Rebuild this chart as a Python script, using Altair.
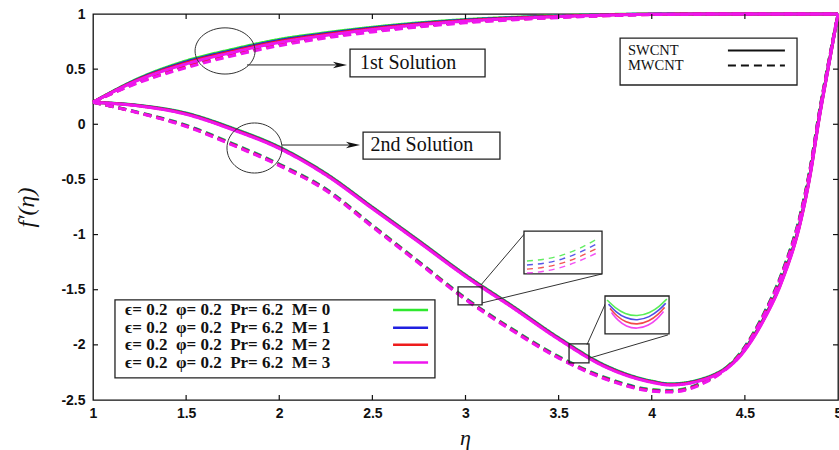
import altair as alt
import pandas as pd

# ------------------------------------------------------------------ data
M_VALUES = [0, 1, 2, 3]
M_COLORS = ["#2ee82e", "#2020e0", "#ee1c1c", "#ee16ee"]
TYPES = ["SWCNT", "MWCNT"]

X_TICKS = [1, 1.5, 2, 2.5, 3, 3.5, 4, 4.5, 5]
Y_TICKS = [-2.5, -2, -1.5, -1, -0.5, 0, 0.5, 1]

# 1st solution
ETA_1ST = [1.0, 1.25, 1.5, 1.75, 2.0, 2.25, 2.5, 2.75, 3.0, 3.25, 3.5, 3.75, 4.0, 4.5, 5.0]
F_1ST_SWCNT = {
    0: [0.20, 0.420, 0.575, 0.680, 0.770, 0.830, 0.880, 0.920, 0.950, 0.970, 0.985, 0.995, 1.000, 1.000, 1.000],
    1: [0.20, 0.415, 0.565, 0.670, 0.760, 0.822, 0.873, 0.914, 0.945, 0.966, 0.982, 0.993, 0.999, 1.000, 1.000],
    2: [0.20, 0.410, 0.556, 0.661, 0.751, 0.814, 0.866, 0.908, 0.940, 0.962, 0.979, 0.991, 0.998, 1.000, 1.000],
    3: [0.20, 0.405, 0.547, 0.652, 0.742, 0.806, 0.859, 0.902, 0.935, 0.958, 0.976, 0.989, 0.997, 1.000, 1.000],
}
F_1ST_MWCNT = {
    0: [0.20, 0.395, 0.540, 0.648, 0.740, 0.806, 0.858, 0.900, 0.935, 0.958, 0.976, 0.989, 0.997, 1.000, 1.000],
    1: [0.20, 0.390, 0.531, 0.639, 0.731, 0.798, 0.851, 0.894, 0.930, 0.954, 0.973, 0.987, 0.996, 1.000, 1.000],
    2: [0.20, 0.385, 0.522, 0.630, 0.722, 0.790, 0.844, 0.888, 0.925, 0.950, 0.970, 0.985, 0.995, 1.000, 1.000],
    3: [0.20, 0.380, 0.513, 0.621, 0.713, 0.782, 0.837, 0.882, 0.920, 0.946, 0.967, 0.983, 0.994, 1.000, 1.000],
}

# 2nd solution
ETA_2ND = [1.0, 1.25, 1.5, 1.75, 2.0, 2.25, 2.5, 2.75, 3.0, 3.25, 3.5, 3.75, 4.0, 4.1,
           4.25, 4.5, 4.6, 4.7, 4.8, 4.85, 4.9, 4.95, 5.0]
F_2ND_SWCNT = {
    0: [0.20, 0.171, 0.102, -0.035, -0.205, -0.445, -0.750, -1.055, -1.365, -1.645, -1.935, -2.185, -2.328, -2.353,
        -2.318, -2.035, -1.762, -1.399, -0.859, -0.449, 0.078, 0.542, 1.000],
    1: [0.20, 0.169, 0.098, -0.040, -0.210, -0.450, -0.755, -1.060, -1.370, -1.650, -1.940, -2.190, -2.332, -2.357,
        -2.322, -2.040, -1.768, -1.406, -0.866, -0.456, 0.072, 0.538, 1.000],
    2: [0.20, 0.167, 0.094, -0.045, -0.215, -0.455, -0.760, -1.065, -1.375, -1.655, -1.945, -2.195, -2.336, -2.361,
        -2.326, -2.045, -1.774, -1.413, -0.873, -0.463, 0.066, 0.534, 1.000],
    3: [0.20, 0.165, 0.090, -0.050, -0.220, -0.460, -0.765, -1.070, -1.380, -1.660, -1.950, -2.200, -2.340, -2.365,
        -2.330, -2.050, -1.780, -1.420, -0.880, -0.470, 0.060, 0.530, 1.000],
}
F_2ND_MWCNT = {
    0: [0.20, 0.106, -0.008, -0.175, -0.360, -0.585, -0.915, -1.245, -1.575, -1.855, -2.105, -2.295, -2.405, -2.413,
        -2.355, -2.015, -1.722, -1.339, -0.799, -0.399, 0.118, 0.572, 1.000],
    1: [0.20, 0.104, -0.012, -0.180, -0.365, -0.590, -0.920, -1.250, -1.580, -1.860, -2.110, -2.300, -2.410, -2.418,
        -2.360, -2.020, -1.728, -1.346, -0.806, -0.406, 0.112, 0.568, 1.000],
    2: [0.20, 0.102, -0.016, -0.185, -0.370, -0.595, -0.925, -1.255, -1.585, -1.865, -2.115, -2.305, -2.415, -2.423,
        -2.365, -2.025, -1.734, -1.353, -0.813, -0.413, 0.106, 0.564, 1.000],
    3: [0.20, 0.100, -0.020, -0.190, -0.375, -0.600, -0.930, -1.260, -1.590, -1.870, -2.120, -2.310, -2.420, -2.428,
        -2.370, -2.030, -1.740, -1.360, -0.820, -0.420, 0.100, 0.560, 1.000],
}

# legend / annotation content (positions in data units)
LEGEND_LABELS = ["\u03f5= 0.2\u00a0\u00a0\u03c6= 0.2\u00a0\u00a0Pr= 6.2\u00a0\u00a0M= %d" % m for m in M_VALUES]
LEGEND_BOX = {"x": 1.118, "x2": 2.836, "y": -1.593, "y2": -2.300}
LEGEND_ROWS_Y = [-1.684, -1.844, -2.000, -2.161]
LEGEND_TEXT_X = 1.172
LEGEND_LINE_X = [2.611, 2.799]

TYPE_BOX = {"x": 3.830, "x2": 4.780, "y": 0.782, "y2": 0.356}
TYPE_ROWS_Y = [0.669, 0.533]
TYPE_TEXT_X = 3.872
TYPE_LINE_X = [4.409, 4.715]

SOL_LABELS = ["1st Solution", "2nd Solution"]
SOL_BOXES = [{"x": 2.380, "x2": 3.105, "y": 0.681, "y2": 0.429},
             {"x": 2.450, "x2": 3.185, "y": -0.071, "y2": -0.315}]
SOL_TEXT = [{"x": 2.434, "y": 0.556}, {"x": 2.490, "y": -0.192}]
ARROWS = [{"x": 1.827, "x2": 2.330, "y": 0.538, "hx": 2.326},
          {"x": 2.015, "x2": 2.400, "y": -0.188, "hx": 2.396}]
ELLIPSES = [{"x": 1.709, "y": 0.665}, {"x": 1.867, "y": -0.215}]

INSET_SMALL = [{"x": 2.960, "x2": 3.089, "y": -1.475, "y2": -1.638},
               {"x": 3.556, "x2": 3.663, "y": -1.992, "y2": -2.164}]
INSET_BIG = [{"x": 3.314, "x2": 3.733, "y": -0.969, "y2": -1.357},
             {"x": 3.749, "x2": 4.093, "y": -1.557, "y2": -1.901}]
INSET_LINKS = [{"x": 3.083, "y": -1.457, "x2": 3.325, "y2": -0.977},
               {"x": 3.089, "y": -1.620, "x2": 3.733, "y2": -1.357},
               {"x": 3.652, "y": -2.000, "x2": 3.760, "y2": -1.593},
               {"x": 3.668, "y": -2.119, "x2": 4.087, "y2": -1.910}]
INSET1_X = [3.330, 3.427, 3.518, 3.615, 3.706]
INSET1_Y = {0: [-1.240, -1.222, -1.186, -1.122, -1.040],
            1: [-1.276, -1.258, -1.222, -1.160, -1.082],
            2: [-1.313, -1.295, -1.259, -1.198, -1.124],
            3: [-1.349, -1.331, -1.295, -1.236, -1.166]}
INSET2_X = {0: [3.760, 3.803, 3.856, 3.921, 3.990, 4.044, 4.081],
            1: [3.768, 3.808, 3.858, 3.921, 3.988, 4.040, 4.075],
            2: [3.776, 3.813, 3.860, 3.921, 3.986, 4.036, 4.069],
            3: [3.784, 3.818, 3.862, 3.921, 3.984, 4.032, 4.063]}
INSET2_Y = {0: [-1.593, -1.665, -1.720, -1.743, -1.711, -1.648, -1.584],
            1: [-1.631, -1.703, -1.758, -1.781, -1.749, -1.686, -1.622],
            2: [-1.669, -1.741, -1.796, -1.819, -1.787, -1.724, -1.660],
            3: [-1.707, -1.779, -1.834, -1.857, -1.825, -1.762, -1.698]}

# ------------------------------------------------------------------ tables
rows = []
for sol, eta, sw, mw in [("1st", ETA_1ST, F_1ST_SWCNT, F_1ST_MWCNT),
                         ("2nd", ETA_2ND, F_2ND_SWCNT, F_2ND_MWCNT)]:
    for t, table in [("SWCNT", sw), ("MWCNT", mw)]:
        for m in M_VALUES:
            for e, f in zip(eta, table[m]):
                rows.append({"x": e, "y": f, "M": m, "type": t, "series": f"{sol}-{t}-{m}"})
curves = pd.DataFrame(rows)

W, H = 745, 386
SX = alt.Scale(domain=[1, 5], nice=False, zero=False)
SY = alt.Scale(domain=[-2.5, 1], nice=False, zero=False)
AX = alt.Axis(values=X_TICKS, ticks=False, domain=False, grid=False, labelFont="Liberation Sans",
              labelFontWeight="bold", labelFontSize=14, labelColor="#111", labelPadding=6,
              labelFlush=False, labelOverlap=False, labelExpr="toString(datum.value)",
              title="\u03b7", titleFont="Liberation Serif", titleFontStyle="italic", titleFontWeight="normal",
              titleFontSize=22, titleColor="#111", titleX=372, titleY=37, titleBaseline="middle")
AY = alt.Axis(values=Y_TICKS, ticks=False, domain=False, grid=False, labelFont="Liberation Sans",
              labelFontWeight="bold", labelFontSize=14, labelColor="#111", labelPadding=8,
              labelFlush=False, labelOverlap=False, labelExpr="toString(datum.value)",
              title="f\u2032(\u03b7)", titleFont="Liberation Serif", titleFontStyle="italic",
              titleFontWeight="normal", titleFontSize=24, titleColor="#111", titleX=-67, titleY=193,
              titleAngle=-90, titleAlign="center", titleBaseline="middle")


def X(field):
    return alt.X(f"{field}:Q", scale=SX, axis=AX)


def Y(field):
    return alt.Y(f"{field}:Q", scale=SY, axis=AY)


layers = []

# main curves, one layer per M (M=3 on top)
for m, col in zip(M_VALUES, M_COLORS):
    layers.append(
        alt.Chart(curves[curves.M == m]).mark_line(strokeWidth=3, interpolate="monotone", color=col).encode(
            x=X("x"), y=Y("y"), detail="series:N",
            strokeDash=alt.StrokeDash("type:N", scale=alt.Scale(domain=TYPES, range=[[1, 0], [8, 5]]), legend=None),
        )
    )

# inward ticks
xt = pd.DataFrame({"x": X_TICKS[1:-1]})
yt = pd.DataFrame({"y": Y_TICKS[1:-1]})
layers.append(alt.Chart(xt).mark_rule(color="#111", strokeWidth=1.2).encode(x=X("x"), y=alt.value(H), y2=alt.value(H - 5)))
layers.append(alt.Chart(xt).mark_rule(color="#111", strokeWidth=1.2).encode(x=X("x"), y=alt.value(0), y2=alt.value(5)))
layers.append(alt.Chart(yt).mark_rule(color="#111", strokeWidth=1.2).encode(y=Y("y"), x=alt.value(0), x2=alt.value(5)))
layers.append(alt.Chart(yt).mark_rule(color="#111", strokeWidth=1.2).encode(y=Y("y"), x=alt.value(W), x2=alt.value(W - 5)))

# boxes (legends, solution labels)
boxes = pd.DataFrame([LEGEND_BOX, TYPE_BOX] + SOL_BOXES)
layers.append(alt.Chart(boxes).mark_rect(fill="white", stroke="#222", strokeWidth=1.3).encode(
    x=X("x"), x2="x2:Q", y=Y("y"), y2="y2:Q"))

# M legend
mleg = pd.DataFrame({"label": LEGEND_LABELS, "y": LEGEND_ROWS_Y, "color": M_COLORS,
                     "x": [LEGEND_TEXT_X] * 4, "lx": [LEGEND_LINE_X[0]] * 4, "lx2": [LEGEND_LINE_X[1]] * 4})
layers.append(alt.Chart(mleg).mark_text(align="left", baseline="middle", font="Liberation Serif",
                                        fontWeight="bold", fontSize=17, color="#111").encode(
    x=X("x"), y=Y("y"), text="label:N"))
layers.append(alt.Chart(mleg).mark_rule(strokeWidth=2.5).encode(
    x=X("lx"), x2="lx2:Q", y=Y("y"), color=alt.Color("color:N", scale=None)))

# SWCNT / MWCNT legend
tleg = pd.DataFrame({"label": TYPES, "y": TYPE_ROWS_Y, "x": [TYPE_TEXT_X] * 2,
                     "lx": [TYPE_LINE_X[0]] * 2, "lx2": [TYPE_LINE_X[1]] * 2})
layers.append(alt.Chart(tleg).mark_text(align="left", baseline="middle", font="Liberation Serif",
                                        fontSize=14.5, color="#111").encode(x=X("x"), y=Y("y"), text="label:N"))
layers.append(alt.Chart(tleg).mark_rule(strokeWidth=2, color="#111").encode(
    x=X("lx"), x2="lx2:Q", y=Y("y"),
    strokeDash=alt.StrokeDash("label:N", scale=alt.Scale(domain=TYPES, range=[[1, 0], [8, 5]]), legend=None)))

# solution labels
stext = pd.DataFrame([dict(d, label=l) for d, l in zip(SOL_TEXT, SOL_LABELS)])
layers.append(alt.Chart(stext).mark_text(align="left", baseline="middle", font="Liberation Serif",
                                         fontSize=20, color="#111").encode(x=X("x"), y=Y("y"), text="label:N"))

# arrows
arr = pd.DataFrame(ARROWS)
layers.append(alt.Chart(arr).mark_rule(color="#222", strokeWidth=1).encode(x=X("x"), x2="x2:Q", y=Y("y")))
layers.append(alt.Chart(arr).mark_point(shape="M 1 0 L -1 -0.45 L -0.45 0 L -1 0.45 Z", filled=True,
                                        size=200, color="#111", opacity=1).encode(x=X("hx"), y=Y("y")))

# ellipses
ell = pd.DataFrame(ELLIPSES)
layers.append(alt.Chart(ell.iloc[[0]]).mark_point(
    shape="M -1 0 A 1 0.77 0 1 1 1 0 A 1 0.77 0 1 1 -1 0 Z", filled=False, size=3600,
    color="#333", strokeWidth=1, opacity=1).encode(x=X("x"), y=Y("y")))
layers.append(alt.Chart(ell.iloc[[1]]).mark_point(
    shape="M -1 0 A 1 0.91 0 1 1 1 0 A 1 0.91 0 1 1 -1 0 Z", filled=False, size=3025,
    color="#333", strokeWidth=1, opacity=1).encode(x=X("x"), y=Y("y")))

# insets
layers.append(alt.Chart(pd.DataFrame(INSET_LINKS)).mark_rule(color="#333", strokeWidth=1).encode(
    x=X("x"), x2="x2:Q", y=Y("y"), y2="y2:Q"))
layers.append(alt.Chart(pd.DataFrame(INSET_SMALL)).mark_rect(fill=None, stroke="#222", strokeWidth=1.3).encode(
    x=X("x"), x2="x2:Q", y=Y("y"), y2="y2:Q"))
layers.append(alt.Chart(pd.DataFrame(INSET_BIG)).mark_rect(fill="white", stroke="#222", strokeWidth=1.3).encode(
    x=X("x"), x2="x2:Q", y=Y("y"), y2="y2:Q"))

ins1 = pd.DataFrame([{"x": xv, "y": yv, "M": m, "color": M_COLORS[m]}
                     for m in M_VALUES for xv, yv in zip(INSET1_X, INSET1_Y[m])])
ins2 = pd.DataFrame([{"x": xv, "y": yv, "M": m, "color": M_COLORS[m]}
                     for m in M_VALUES for xv, yv in zip(INSET2_X[m], INSET2_Y[m])])
layers.append(alt.Chart(ins1).mark_line(strokeWidth=1.4, strokeDash=[6, 5], interpolate="monotone", opacity=0.75).encode(
    x=X("x"), y=Y("y"), detail="M:N", color=alt.Color("color:N", scale=None)))
layers.append(alt.Chart(ins2).mark_line(strokeWidth=1.6, interpolate="basis", opacity=0.8).encode(
    x=X("x"), y=Y("y"), detail="M:N", color=alt.Color("color:N", scale=None)))

chart = alt.layer(*layers).properties(
    width=W, height=H,
    padding={"left": 93, "top": 14, "right": 1, "bottom": 50},
    autosize=alt.AutoSizeParams(type="none"),
    background="white",
).configure_view(stroke="#111", strokeWidth=1.3)

chart.save("out.html", embed_options={"renderer": "svg", "actions": False})
